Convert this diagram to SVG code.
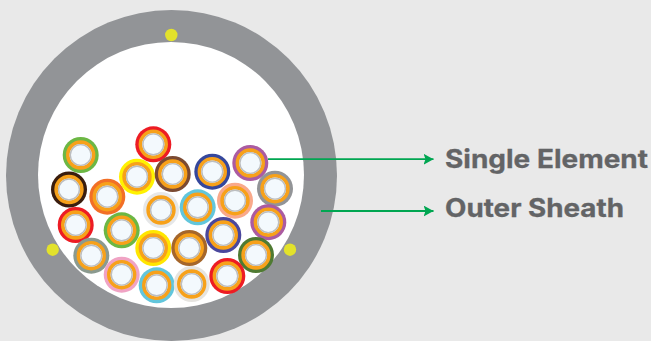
<svg xmlns="http://www.w3.org/2000/svg" width="651" height="341" viewBox="0 0 651 341">
<style>
.o{stroke:#f7a11a;stroke-width:3.6;fill:#f3f9fd}
.i{fill:none;stroke:#bcbec0;stroke-width:1.4}
.dot{fill:#e3e22b}
.c{stroke:#00a651;stroke-width:1.8;fill:none;marker-end:url(#a)}
.t{font-family:"Inter","Liberation Sans",sans-serif;font-weight:700;font-size:25px;fill:#636466;stroke:#636466;stroke-width:.3}
</style>
<defs>
<marker id="a" markerUnits="userSpaceOnUse" markerWidth="10" markerHeight="11" refX="10" refY="5.5" orient="auto"><path d="M0 0L10 5.5L0 11L2 5.5Z" fill="#00a651"/></marker>
<g id="e"><circle r="12.9" class="o"/><circle r="10.4" class="i"/></g>
</defs>
<rect width="651" height="341" fill="#e9e9e9"/>
<g id="sheath"><circle cx="171.5" cy="175.5" r="165.5" fill="#929497"/><circle cx="171" cy="175" r="133" fill="#fff"/>
<circle class="dot" cx="171.3" cy="35" r="6.2"/><circle class="dot" cx="52.7" cy="249.7" r="6.2"/><circle class="dot" cx="290" cy="249.7" r="6.2"/></g>
<g id="connectors"><path class="c" d="M268 159.2H433.5"/><path class="c" d="M321 211H433.5"/></g>
<g id="n1"><circle cx="80.7" cy="155" r="18" fill="#6cb744"/><use href="#e" x="80.7" y="155"/></g>
<g id="n2"><circle cx="69" cy="189.5" r="18" fill="#3a1d0e"/><use href="#e" x="69" y="189.5"/></g>
<g id="n3"><circle cx="107.3" cy="196.7" r="18" fill="#f26f26"/><use href="#e" x="107.3" y="196.7"/></g>
<g id="n4"><circle cx="137" cy="176.7" r="18" fill="#fff200"/><use href="#e" x="137" y="176.7"/></g>
<g id="n5"><circle cx="153.3" cy="144.3" r="18" fill="#ed1c24"/><use href="#e" x="153.3" y="144.3"/></g>
<g id="n6"><circle cx="172.7" cy="174" r="18" fill="#7b4a32"/><use href="#e" x="172.7" y="174"/></g>
<g id="n7"><circle cx="212.3" cy="171.7" r="18" fill="#35479c"/><use href="#e" x="212.3" y="171.7"/></g>
<g id="n8"><circle cx="250.3" cy="163" r="18" fill="#ab5ba1"/><use href="#e" x="250.3" y="163"/></g>
<g id="n9"><circle cx="275" cy="188.7" r="18" fill="#929497"/><use href="#e" x="275" y="188.7"/></g>
<g id="n10"><circle cx="235" cy="200.7" r="18" fill="#f9a98b"/><use href="#e" x="235" y="200.7"/></g>
<g id="n11"><circle cx="197.7" cy="207.3" r="18" fill="#62c6dc"/><use href="#e" x="197.7" y="207.3"/></g>
<g id="n12"><circle cx="161" cy="210" r="18" fill="#e6e7e8"/><use href="#e" x="161" y="210"/></g>
<g id="n13"><circle cx="268.3" cy="222.2" r="18" fill="#ab5ba1"/><use href="#e" x="268.3" y="222.2"/></g>
<g id="n14"><circle cx="75.7" cy="225" r="18" fill="#ed1c24"/><use href="#e" x="75.7" y="225"/></g>
<g id="n15"><circle cx="121.7" cy="230.3" r="18" fill="#6cb744"/><use href="#e" x="121.7" y="230.3"/></g>
<g id="n16"><circle cx="91.3" cy="255.7" r="18" fill="#8b9a8f"/><use href="#e" x="91.3" y="255.7"/></g>
<g id="n17"><circle cx="153.3" cy="248" r="18" fill="#ffe600"/><use href="#e" x="153.3" y="248"/></g>
<g id="n18"><circle cx="121.7" cy="274.7" r="18" fill="#f0a3c4"/><use href="#e" x="121.7" y="274.7"/></g>
<g id="n19"><circle cx="156.7" cy="285.3" r="18" fill="#62c6dc"/><use href="#e" x="156.7" y="285.3"/></g>
<g id="n20"><circle cx="189.3" cy="248" r="18" fill="#a5662a"/><use href="#e" x="189.3" y="248"/></g>
<g id="n21"><circle cx="223.3" cy="235" r="18" fill="#4a479d"/><use href="#e" x="223.3" y="235"/></g>
<g id="n22"><circle cx="256" cy="255" r="18" fill="#4f7a32"/><use href="#e" x="256" y="255"/></g>
<g id="n23"><circle cx="227.3" cy="276" r="18" fill="#ed1c24"/><use href="#e" x="227.3" y="276"/></g>
<g id="n24"><circle cx="191.7" cy="284" r="18" fill="#e6e4e0"/><use href="#e" x="191.7" y="284"/></g>
<g id="l1"><text class="t" x="445" y="168" textLength="203" lengthAdjust="spacingAndGlyphs">Single Element</text></g>
<g id="l2"><text class="t" x="445" y="217" textLength="179" lengthAdjust="spacingAndGlyphs">Outer Sheath</text></g>
</svg>
